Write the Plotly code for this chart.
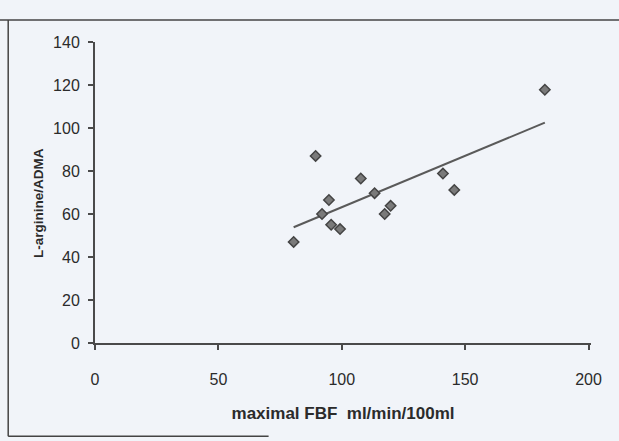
import numpy as np
import plotly.graph_objects as go

# Data
fbf = [80.5, 89.4, 92.0, 94.8, 95.7, 99.3, 107.7, 113.3, 117.4, 119.8, 141.0, 145.6, 182.3]
ratio = [47.0, 87.0, 60.0, 66.5, 55.0, 53.0, 76.5, 69.7, 60.0, 63.8, 78.8, 71.2, 117.8]
x_ticks = [0, 50, 100, 150, 200]
y_ticks = [0, 20, 40, 60, 80, 100, 120, 140]

slope, intercept = np.polyfit(fbf, ratio, 1)
fit_x = [min(fbf), max(fbf)]
fit_y = [slope * v + intercept for v in fit_x]

BG = "#f1f4f9"
INK = "#2b2b2b"
FONT = "Liberation Sans Narrow, Liberation Sans, Arial, sans-serif"

fig = go.Figure()
fig.add_trace(go.Scatter(x=fit_x, y=fit_y, mode="lines",
                         line=dict(color="#5a5a5a", width=2), hoverinfo="skip"))
fig.add_trace(go.Scatter(x=fbf, y=ratio, mode="markers",
                         marker=dict(symbol="diamond", size=8, color="#7a7a7a",
                                     line=dict(color="#444444", width=1.5))))

fig.update_layout(
    width=619, height=441,
    margin=dict(l=95, r=28, t=42, b=98),
    paper_bgcolor=BG, plot_bgcolor=BG,
    showlegend=False,
    font=dict(family=FONT, color=INK, size=14),
    xaxis=dict(range=[0, 201], tickvals=x_ticks, showgrid=False, zeroline=False,
               showline=True, linecolor="#4a4a4a", linewidth=2,
               ticks="outside", ticklen=5, tickcolor="#4a4a4a", tickwidth=2,
               ticklabelstandoff=16, tickfont=dict(size=16),
               title=dict(text="<b>maximal FBF  ml/min/100ml</b>", font=dict(size=17), standoff=20)),
    yaxis=dict(range=[0, 140], tickvals=y_ticks, showgrid=False, zeroline=False,
               showline=True, linecolor="#4a4a4a", linewidth=2,
               ticks="outside", ticklen=5, tickcolor="#4a4a4a", tickwidth=1.5,
               ticklabelstandoff=5, tickfont=dict(size=16)),
)

# Y-axis title, placed where it sits on the scanned page
fig.add_annotation(text="<b>L-arginine/ADMA</b>", textangle=-90, showarrow=False,
                   xref="paper", yref="paper", x=-0.115, y=0.465,
                   xanchor="center", yanchor="middle", font=dict(size=13.5, color=INK))

# Scanned page frame around the chart
frame = dict(color="#444444", width=1.5)
fig.add_shape(type="line", xref="paper", yref="paper", x0=-0.2, x1=1.06, y0=1.073, y1=1.073, line=frame)
fig.add_shape(type="line", xref="paper", yref="paper", x0=-0.175, x1=-0.175, y0=1.073, y1=-0.31, line=frame)
fig.add_shape(type="line", xref="paper", yref="paper", x0=-0.175, x1=0.35, y0=-0.31, y1=-0.31, line=frame)

fig.write_html("out.html", config={"displayModeBar": False},
               post_script="document.body.style.margin='0';document.body.style.background='" + BG + "';")
